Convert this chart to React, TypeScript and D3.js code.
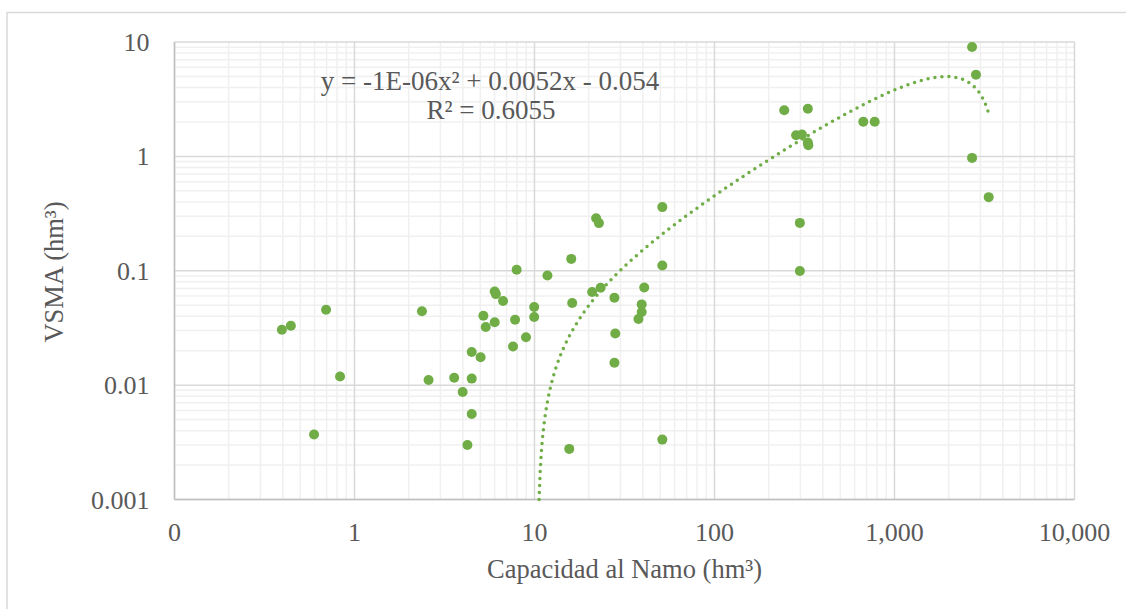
import * as d3 from "d3";

// Capacidad al Namo (hm³) vs VSMA (hm³)
const capacidad = [
  0.395, 0.443, 0.695, 0.831, 0.596, 2.37, 2.58, 3.58, 3.99, 4.48, 4.48, 5.02,
  4.48, 4.24, 5.2, 5.36, 6.01, 6.1, 6.69, 6.01, 7.8, 7.6, 7.96, 8.97, 9.96, 9.96,
  11.8, 16.0, 16.2, 15.6, 22.0, 22.8, 20.9, 23.3, 27.8, 28.1, 27.8, 40.7, 39.4,
  39.4, 37.8, 51.3, 51.3, 51.3, 244, 330, 284, 306, 330, 332, 671, 776, 2697,
  2836, 2697, 3337, 298, 298,
];
const vsma = [
  0.0305, 0.033, 0.0456, 0.0119, 0.0037, 0.0442, 0.0111, 0.0116, 0.0087, 0.0114,
  0.0195, 0.0175, 0.0056, 0.003, 0.0404, 0.0322, 0.0659, 0.0625, 0.0543, 0.0354,
  0.0373, 0.0218, 0.102, 0.0262, 0.0482, 0.0394, 0.091, 0.127, 0.0522, 0.00277,
  0.288, 0.261, 0.0652, 0.0711, 0.058, 0.0283, 0.0157, 0.0714, 0.0508, 0.0436,
  0.0379, 0.36, 0.111, 0.00334, 2.53, 2.61, 1.53, 1.55, 1.32, 1.25, 2.01, 2.01,
  9.04, 5.18, 0.97, 0.44, 0.262, 0.0994,
];

// polynomial trendline (order 2); the chart shows a rounded to -1E-06
const trendA = -1.34e-6;
const trendB = 0.0052;
const trendC = -0.054;
const trendXMax = 3337;

const xTicks = [0.1, 1, 10, 100, 1000, 10000];
const xTickLabels = ["0", "1", "10", "100", "1,000", "10,000"];
const yTicks = [0.001, 0.01, 0.1, 1, 10];
const yTickLabels = ["0.001", "0.01", "0.1", "1", "10"];

const width = 1126;
const height = 609;
const margin = { top: 42, right: 51.5, bottom: 109.5, left: 174.5 };
const green = "#70AD47";
const textColor = "#595959";
const serif = "Liberation Serif, Times New Roman, serif";
const tickStyle = { fontFamily: serif, fontSize: 26, fill: textColor };
const titleStyle = { fontFamily: serif, fontSize: 26.5, fill: textColor };
const eqStyle = { fontFamily: serif, fontSize: 27, fill: textColor };

export default function App() {
  const x = d3
    .scaleLog()
    .domain([0.1, 10000])
    .range([margin.left, width - margin.right]);
  const y = d3
    .scaleLog()
    .domain([0.001, 10])
    .range([height - margin.bottom, margin.top]);

  // minor grid: 2..9 in each decade
  const minorX: number[] = [];
  for (let e = -1; e < 4; e++)
    for (let k = 2; k <= 9; k++) minorX.push(k * Math.pow(10, e));
  const minorY: number[] = [];
  for (let e = -3; e < 1; e++)
    for (let k = 2; k <= 9; k++) minorY.push(k * Math.pow(10, e));

  const trend = (v: number) => trendA * v * v + trendB * v + trendC;
  // start where the curve enters the plot
  let x0 = 10;
  while (trend(x0) < 0.001) x0 += 0.001;
  const trendPts: [number, number][] = [];
  const n = 400;
  const l0 = Math.log10(x0);
  const l1 = Math.log10(trendXMax);
  for (let i = 0; i <= n; i++) {
    const xv = Math.pow(10, l0 + ((l1 - l0) * i) / n);
    trendPts.push([xv, trend(xv)]);
  }
  const line = d3
    .line<[number, number]>()
    .x((d) => x(d[0]))
    .y((d) => y(d[1]));

  const [x1, x2] = x.range();
  const [y2, y1] = y.range();

  return (
    <svg
      width={width}
      height={height}
      style={{ position: "absolute", left: 0, top: 0, background: "#fff" }}
    >
      {/* chart frame */}
      <rect x={7} y={12.5} width={1140} height={620} fill="none" stroke="#d9d9d9" strokeWidth={1.5} />

      {/* minor grid */}
      {minorX.map((v) => (
        <line key={"mx" + v} x1={x(v)} x2={x(v)} y1={y1} y2={y2} stroke="#f0f0f0" strokeWidth={1.5} />
      ))}
      {minorY.map((v) => (
        <line key={"my" + v} x1={x1} x2={x2} y1={y(v)} y2={y(v)} stroke="#f0f0f0" strokeWidth={1.5} />
      ))}
      {/* major grid */}
      {xTicks.map((v) => (
        <line key={"gx" + v} x1={x(v)} x2={x(v)} y1={y1} y2={y2} stroke="#d9d9d9" strokeWidth={1.5} />
      ))}
      {yTicks.map((v) => (
        <line key={"gy" + v} x1={x1} x2={x2} y1={y(v)} y2={y(v)} stroke="#d9d9d9" strokeWidth={1.5} />
      ))}
      {/* axis lines */}
      <line x1={x1} x2={x1} y1={y1} y2={y2} stroke="#bfbfbf" strokeWidth={1.5} />
      <line x1={x1} x2={x2} y1={y2} y2={y2} stroke="#bfbfbf" strokeWidth={1.5} />

      {/* tick labels */}
      {xTicks.map((v, i) => (
        <text key={"tx" + v} x={x(v)} y={y2 + 41.5} textAnchor="middle" style={tickStyle}>
          {xTickLabels[i]}
        </text>
      ))}
      {yTicks.map((v, i) => (
        <text key={"ty" + v} x={x1 - 25} y={y(v) + 9} textAnchor="end" style={tickStyle}>
          {yTickLabels[i]}
        </text>
      ))}

      {/* axis titles */}
      <text x={(x1 + x2) / 2} y={578} textAnchor="middle" style={titleStyle}>
        Capacidad al Namo (hm³)
      </text>
      <text transform={`translate(63,272) rotate(-90)`} textAnchor="middle" style={titleStyle}>
        VSMA (hm³)
      </text>

      {/* points */}
      {capacidad.map((c, i) => (
        <circle key={"p" + i} cx={x(c)} cy={y(vsma[i])} r={5} fill={green} />
      ))}

      {/* trendline */}
      <path
        d={line(trendPts) || ""}
        fill="none"
        stroke={green}
        strokeWidth={3.5}
        strokeLinecap="round"
        strokeDasharray="0 7"
      />

      {/* equation */}
      <text x={490} y={90} textAnchor="middle" style={eqStyle}>
        y = -1E-06x² + 0.0052x - 0.054
      </text>
      <text x={491} y={119} textAnchor="middle" style={eqStyle}>
        R² = 0.6055
      </text>
    </svg>
  );
}
